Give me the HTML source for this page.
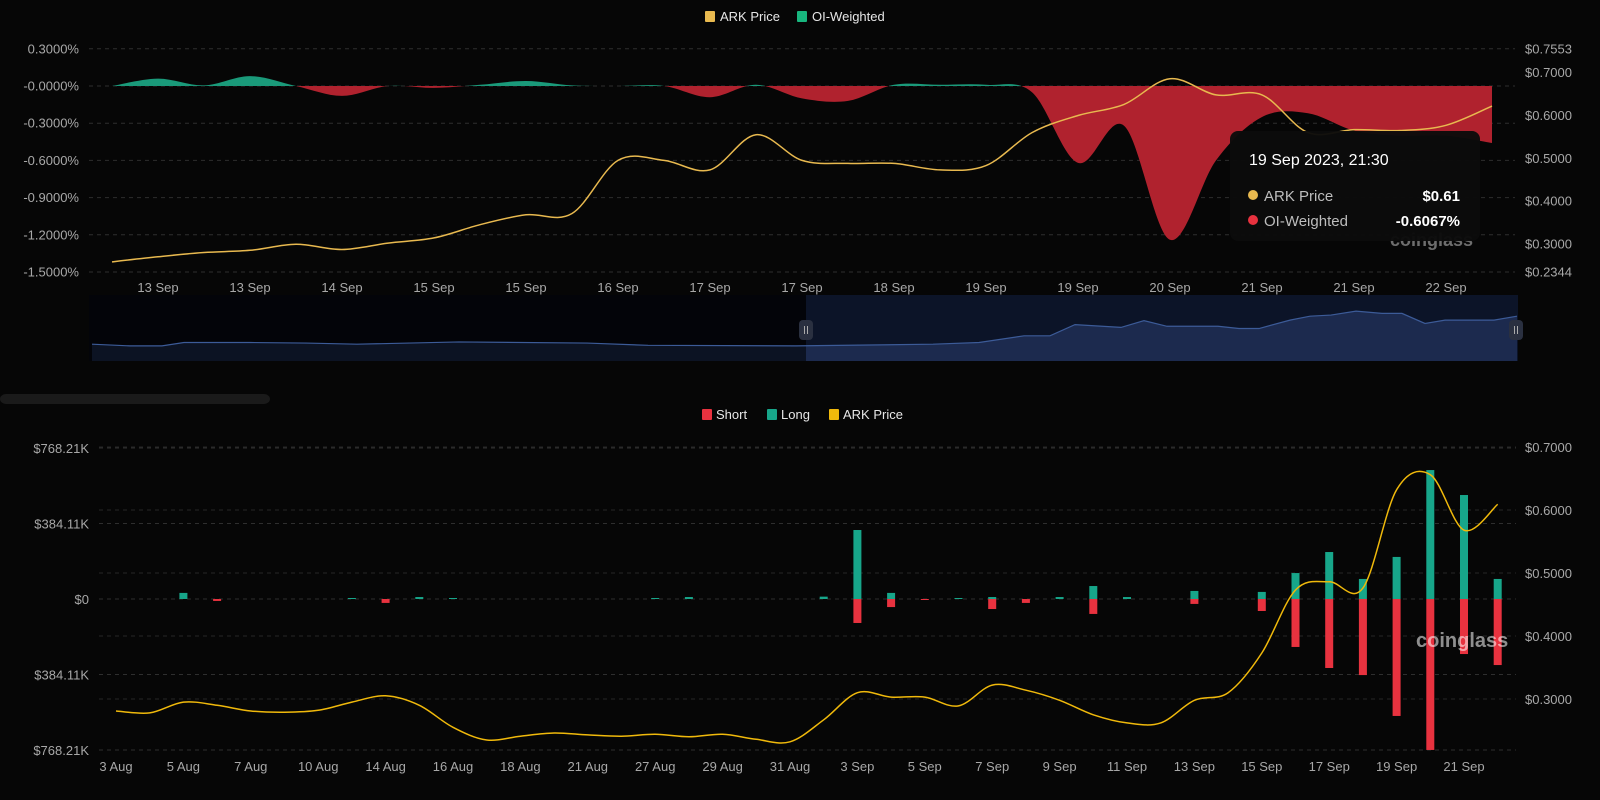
<!DOCTYPE html>
<html><head><meta charset="utf-8">
<style>
html,body{margin:0;padding:0;background:#060606;}
svg{display:block;font-family:"Liberation Sans",sans-serif;}
</style></head>
<body>
<svg id="s" width="1600" height="800" viewBox="0 0 1600 800" xmlns="http://www.w3.org/2000/svg">
<rect width="1600" height="800" fill="#060606"/>
<defs>
<clipPath id="above"><rect x="0" y="0" width="1600" height="86"/></clipPath>
<clipPath id="below"><rect x="0" y="86" width="1600" height="300"/></clipPath>
</defs>
<g id="top-legend">
<g><rect x="705" y="11" width="10" height="11" rx="1" fill="#e8b94f"/><text x="720" y="21" font-size="13" fill="#e6e6e6">ARK Price</text></g>
<g><rect x="797" y="11" width="10" height="11" rx="1" fill="#18b67e"/><text x="812" y="21" font-size="13" fill="#e6e6e6">OI-Weighted</text></g>
</g>
<g id="top-grid"></g>
<g id="top-left-axis"></g>
<g id="top-right-axis"></g>
<g id="top-x-axis"></g>
<g id="top-plot"></g>
<g id="navigator"></g>
<rect x="0" y="394" width="270" height="10" rx="6" fill="#1a1a1a"/>
<g id="bottom-legend">
<g><rect x="702" y="409" width="10" height="11" rx="1" fill="#e8323f"/><text x="716" y="419" font-size="13" fill="#e6e6e6">Short</text></g>
<g><rect x="767" y="409" width="10" height="11" rx="1" fill="#17a68a"/><text x="781" y="419" font-size="13" fill="#e6e6e6">Long</text></g>
<g><rect x="829" y="409" width="10" height="11" rx="1" fill="#f0b90b"/><text x="843" y="419" font-size="13" fill="#e6e6e6">ARK Price</text></g>
</g>
<g id="bot-grid"></g>
<g id="bot-axes"></g>
<g id="bot-plot"></g>
<text x="1416" y="647" font-size="20" font-weight="bold" fill="#ffffff" fill-opacity="0.55">coinglass</text>
<text x="1390" y="246" font-size="18" font-weight="bold" fill="#9a9a9a" fill-opacity="0.7">coinglass</text>
<g>
<rect x="1230" y="131" width="250" height="110" rx="8" fill="#0b0b0b" fill-opacity="0.96"/>
<text x="1249" y="165" font-size="16" fill="#ffffff">19 Sep 2023, 21:30</text>
<circle cx="1253" cy="195" r="5" fill="#e8b94f"/>
<text x="1264" y="201" font-size="15" fill="#bdbdbd">ARK Price</text>
<text x="1460" y="201" font-size="15" font-weight="bold" fill="#ffffff" text-anchor="end">$0.61</text>
<circle cx="1253" cy="220" r="5" fill="#e8323f"/>
<text x="1264" y="226" font-size="15" fill="#bdbdbd">OI-Weighted</text>
<text x="1460" y="226" font-size="15" font-weight="bold" fill="#ffffff" text-anchor="end">-0.6067%</text>
</g>
</svg>
<script>
// ---------- TOP CHART DATA ----------
const topXLabels = ["13 Sep","13 Sep","14 Sep","15 Sep","15 Sep","16 Sep","17 Sep","17 Sep","18 Sep","19 Sep","19 Sep","20 Sep","21 Sep","21 Sep","22 Sep"];
const topLeftTicks = [0.3,0,-0.3,-0.6,-0.9,-1.2,-1.5];
const topLeftTickLabels = ["0.3000%","-0.0000%","-0.3000%","-0.6000%","-0.9000%","-1.2000%","-1.5000%"];
const topRightTicks = [0.7553,0.7,0.6,0.5,0.4,0.3,0.2344];
const topRightTickLabels = ["$0.7553","$0.7000","$0.6000","$0.5000","$0.4000","$0.3000","$0.2344"];
const oiWeighted = [0,0.06,0.005,0.08,0,-0.08,0,-0.015,0.01,0.04,0.005,0,0,-0.09,0.01,-0.1,-0.12,0.01,0.01,0.01,-0.05,-0.62,-0.32,-1.24,-0.6,-0.25,-0.22,-0.36,-0.4,-0.4,-0.46];
const topPrice = [0.258,0.270,0.280,0.285,0.299,0.287,0.302,0.314,0.345,0.368,0.371,0.495,0.495,0.473,0.555,0.495,0.488,0.488,0.473,0.483,0.560,0.600,0.626,0.686,0.648,0.648,0.56,0.567,0.565,0.577,0.622];
// navigator series
const navX = [92,130,162,184,250,306,357,459,587,648,796,933,979,1024,1050,1075,1121,1144,1167,1218,1239,1259,1290,1310,1331,1356,1382,1402,1425,1445,1494,1517];
const navY = [0.30,0.27,0.27,0.33,0.33,0.32,0.30,0.34,0.32,0.28,0.27,0.30,0.33,0.45,0.45,0.65,0.60,0.72,0.62,0.62,0.58,0.58,0.73,0.80,0.82,0.89,0.85,0.85,0.67,0.73,0.73,0.80];
// ---------- BOTTOM CHART DATA ----------
const botXLabels = ["3 Aug","5 Aug","7 Aug","10 Aug","14 Aug","16 Aug","18 Aug","21 Aug","27 Aug","29 Aug","31 Aug","3 Sep","5 Sep","7 Sep","9 Sep","11 Sep","13 Sep","15 Sep","17 Sep","19 Sep","21 Sep"];
const botLeftTicks = [768.21,384.11,0,-384.11,-768.21];
const botLeftTickLabels = ["$768.21K","$384.11K","$0","$384.11K","$768.21K"];
const botRightTicks = [0.7,0.6,0.5,0.4,0.3];
const botRightTickLabels = ["$0.7000","$0.6000","$0.5000","$0.4000","$0.3000"];
const longVals = [0,0,31,0,0,0,0,3,0,10,2,0,0,0,0,0,5,10,0,0,0,12,351,31,0,3,10,0,10,66,10,0,41,0,36,132,239,102,214,656,529,102];
const shortVals = [0,0,0,10,0,0,0,0,20,0,0,0,0,0,0,0,0,0,0,0,0,0,122,41,5,0,51,20,0,76,0,0,25,0,61,244,351,387,595,768,280,336];
const botPrice = [0.281,0.278,0.295,0.290,0.281,0.279,0.282,0.295,0.305,0.290,0.255,0.235,0.241,0.246,0.243,0.241,0.244,0.240,0.244,0.236,0.232,0.267,0.310,0.303,0.303,0.289,0.322,0.314,0.298,0.275,0.262,0.262,0.298,0.310,0.373,0.473,0.486,0.476,0.632,0.656,0.568,0.609];

const NS="http://www.w3.org/2000/svg";
function mk(tag,attrs,parent){const e=document.createElementNS(NS,tag);for(const k in attrs)e.setAttribute(k,attrs[k]);parent.appendChild(e);return e;}
function spline(pts){let d="M"+pts[0][0]+","+pts[0][1];for(let i=0;i<pts.length-1;i++){const p0=pts[Math.max(0,i-1)],p1=pts[i],p2=pts[i+1],p3=pts[Math.min(pts.length-1,i+2)];const c1x=p1[0]+(p2[0]-p0[0])/6,c1y=p1[1]+(p2[1]-p0[1])/6,c2x=p2[0]-(p3[0]-p1[0])/6,c2y=p2[1]-(p3[1]-p1[1])/6;d+=" C"+c1x.toFixed(1)+","+c1y.toFixed(1)+" "+c2x.toFixed(1)+","+c2y.toFixed(1)+" "+p2[0].toFixed(1)+","+p2[1].toFixed(1);}return d;}
const $=id=>document.getElementById(id);

// ---- top axes
const tx0=112,tx1=1492;
const tX=i=>tx0+(tx1-tx0)*i/(oiWeighted.length-1);
const tYL=v=>86-(v)*(272-86)/1.5;
const tYR=p=>49+(0.7553-p)*(272-49)/(0.7553-0.2344);
topLeftTicks.forEach((v,i)=>{const y=tYL(v);
 let l=mk("line",{x1:89,x2:1515,y1:y,y2:y,stroke:"#2e2e2e","stroke-dasharray":"4 4"},$("top-grid"));
 
 let t=mk("text",{x:79,y:y+4.5,"font-size":13,fill:"#a8a8a8","text-anchor":"end"},$("top-left-axis"));t.textContent=topLeftTickLabels[i];
 });
topRightTicks.forEach((v,i)=>{let t=mk("text",{x:1525,y:tYR(v)+4.5,"font-size":13,fill:"#a8a8a8"},$("top-right-axis"));t.textContent=topRightTickLabels[i];
 });
topXLabels.forEach((s,i)=>{let t=mk("text",{x:158+92*i,y:292,"font-size":13,fill:"#a8a8a8","text-anchor":"middle"},$("top-x-axis"));t.textContent=s;
 });
// OI area
const oiPts=oiWeighted.map((v,i)=>[tX(i),tYL(v)]);
const areaD=spline(oiPts)+" L"+tX(oiWeighted.length-1)+",86 L"+tX(0)+",86 Z";
let ag=mk("path",{d:areaD,fill:"#1a9a7a","clip-path":"url(#above)"},$("top-plot"));

let ar=mk("path",{d:areaD,fill:"#b0222e","clip-path":"url(#below)"},$("top-plot"));

let ap=mk("path",{d:spline(topPrice.map((v,i)=>[tX(i),tYR(v)])),fill:"none",stroke:"#e8b94f","stroke-width":1.5},$("top-plot"));


// ---- navigator
const nv=$("navigator"),ny0=295,ny1=361;
const nY=v=>361-v*(361-305);
mk("rect",{x:89,y:ny0,width:717,height:ny1-ny0,fill:"#070b14"},nv);
mk("rect",{x:806,y:ny0,width:712,height:ny1-ny0,fill:"#0c1428"},nv);
let nd="M"+navX[0]+","+nY(navY[0]);navX.forEach((x,i)=>{nd+=" L"+x+","+nY(navY[i]);});
let na=mk("path",{d:nd+" L1517,361 L92,361 Z",fill:"#1c2a4e"},nv);

mk("rect",{x:89,y:ny0,width:717,height:ny1-ny0,fill:"#000",opacity:0.55},nv);
let nl=mk("path",{d:nd,fill:"none",stroke:"#3c5b98","stroke-width":1.2},nv);

[806,1516].forEach(x=>{let h=mk("rect",{x:x-7,y:320,width:14,height:20,rx:4,fill:"#2a3040"},nv);
 
 mk("line",{x1:x-1.5,x2:x-1.5,y1:326,y2:334,stroke:"#aaa"},nv);mk("line",{x1:x+1.5,x2:x+1.5,y1:326,y2:334,stroke:"#aaa"},nv);});

// ---- bottom chart
const bX=i=>116+33.7*i;
const bZero=599,bScale=151/768.21;
const bY=v=>bZero-v*bScale;
const bYR=p=>447+(0.7-p)*630;
botLeftTicks.forEach((v,i)=>{const y=bY(v);
 let l=mk("line",{x1:99,x2:1516,y1:y,y2:y,stroke:"#2e2e2e","stroke-dasharray":"4 4"},$("bot-grid"));
 
 let t=mk("text",{x:89,y:y+5,"font-size":13,fill:"#a8a8a8","text-anchor":"end"},$("bot-axes"));t.textContent=botLeftTickLabels[i];
 });
botRightTicks.forEach((v,i)=>{const y=bYR(v);
 let l=mk("line",{x1:99,x2:1516,y1:y,y2:y,stroke:"#262626","stroke-dasharray":"4 4"},$("bot-grid"));
 
 let t=mk("text",{x:1525,y:y+5,"font-size":13,fill:"#a8a8a8"},$("bot-axes"));t.textContent=botRightTickLabels[i];
 });
botXLabels.forEach((s,i)=>{let t=mk("text",{x:bX(2*i),y:771,"font-size":13,fill:"#a8a8a8","text-anchor":"middle"},$("bot-axes"));t.textContent=s;
 });
longVals.forEach((v,i)=>{if(v<=0)return;const h=Math.max(v*bScale,1);
 let r=mk("rect",{x:bX(i)-4,y:bZero-h,width:8,height:h,fill:"#17a68a"},$("bot-plot"));
 });
shortVals.forEach((v,i)=>{if(v<=0)return;const h=Math.max(v*bScale,1);
 let r=mk("rect",{x:bX(i)-4,y:bZero,width:8,height:h,fill:"#e8323f"},$("bot-plot"));
 });
let bp=mk("path",{d:spline(botPrice.map((v,i)=>[bX(i),bYR(v)])),fill:"none",stroke:"#f0b90b","stroke-width":1.5},$("bot-plot"));

</script>
</body></html>
